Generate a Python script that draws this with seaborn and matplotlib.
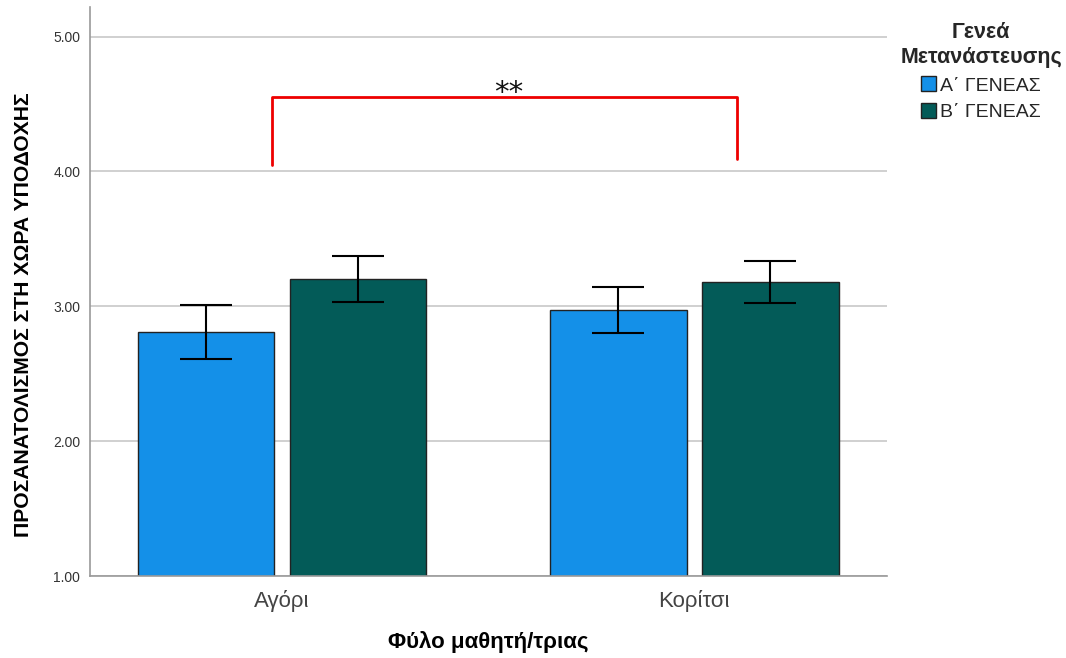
import numpy as np
import pandas as pd
import matplotlib
matplotlib.use('Agg')
import matplotlib.pyplot as plt
import seaborn as sns

fylo = ['Αγόρι', 'Κορίτσι']
genea = ['Α΄ ΓΕΝΕΑΣ', 'Β΄ ΓΕΝΕΑΣ']
mesos_a = [2.81, 2.975]
mesos_b = [3.205, 3.18]
sfalma_a = [0.20, 0.172]
sfalma_b = [0.17, 0.155]
xromata = ['#1490E8', '#035B58']

bracket_top = 4.55
bracket_left_low = 4.05
bracket_right_low = 4.095
bracket_text = '**'

df = pd.DataFrame({
    'fylo': fylo * 2,
    'genea': [genea[0]] * 2 + [genea[1]] * 2,
    'mesos': mesos_a + mesos_b,
    'sfalma': sfalma_a + sfalma_b,
})

sns.set_style('white')
plt.rcParams['font.family'] = ['Liberation Sans', 'DejaVu Sans']

fig = plt.figure(figsize=(10.66, 6.58), dpi=100)
ax = fig.add_axes([90 / 1066, 1 - 576 / 658, 797 / 1066, 569 / 658])

sns.barplot(data=df, x='fylo', y='mesos', hue='genea', order=fylo, hue_order=genea,
            palette=xromata, saturation=1, width=0.738, gap=0.1, errorbar=None,
            edgecolor='#222222', linewidth=1, ax=ax, zorder=2)

# error bars on the bar centres
for patch, (_, row) in zip(ax.patches, df.iterrows()):
    cx = patch.get_x() + patch.get_width() / 2
    ax.errorbar(cx, row['mesos'], yerr=row['sfalma'], color='black',
                capsize=19, capthick=1.5, elinewidth=1.5, zorder=3)

ax.set_ylim(1, 5.22)
ax.set_xlim(-0.466, 1.468)
ax.set_yticks([1, 2, 3, 4, 5])
ax.set_yticklabels(['1.00', '2.00', '3.00', '4.00', '5.00'], fontsize=10, color='#333333')
ax.tick_params(axis='x', labelsize=16, colors='#444444', length=0, pad=10)
ax.tick_params(axis='y', length=0, pad=7)
ax.yaxis.grid(True, color='#c8c8c8', linewidth=1.2, zorder=0)
ax.set_axisbelow(True)
for s in ['top', 'right']:
    ax.spines[s].set_visible(False)
for s in ['left', 'bottom']:
    ax.spines[s].set_color('#999999')
    ax.spines[s].set_linewidth(1.2)

ax.set_xlabel('Φύλο μαθητή/τριας', fontsize=16, fontweight='bold', color='black')
ax.xaxis.set_label_coords(0.5, -0.097)
ax.set_ylabel('ΠΡΟΣΑΝΑΤΟΛΙΣΜΟΣ ΣΤΗ ΧΩΡΑ ΥΠΟΔΟΧΗΣ', fontsize=15.2,
              fontweight='bold', color='black')
ax.yaxis.set_label_coords(-0.071, 0.46)

# significance bracket between the two groups
xl, xr = ax.get_xticks()[0] - 0.025, ax.get_xticks()[1] + 0.105
ax.plot([xl, xl, xr, xr], [bracket_left_low, bracket_top, bracket_top, bracket_right_low],
        color='#ee0000', linewidth=2, zorder=4, clip_on=False)
ax.text((xl + xr) / 2 + 0.01, bracket_top + 0.03, bracket_text, ha='center', va='center',
        fontsize=21, color='#111111', family='DejaVu Sans')

handles, labels = ax.get_legend_handles_labels()
leg = ax.legend(handles, labels, title='Γενεά\nΜετανάστευσης', loc='upper center',
                bbox_to_anchor=(981 / 1066, 0.966), bbox_transform=fig.transFigure,
                frameon=False, fontsize=14, title_fontproperties={'weight': 'bold', 'size': 15.5},
                handlelength=0.8, handleheight=0.8, handletextpad=0.2, labelspacing=0.45,
                borderaxespad=0, borderpad=0)
leg.get_title().set_multialignment('center')

fig.savefig('out.png', dpi=100)
